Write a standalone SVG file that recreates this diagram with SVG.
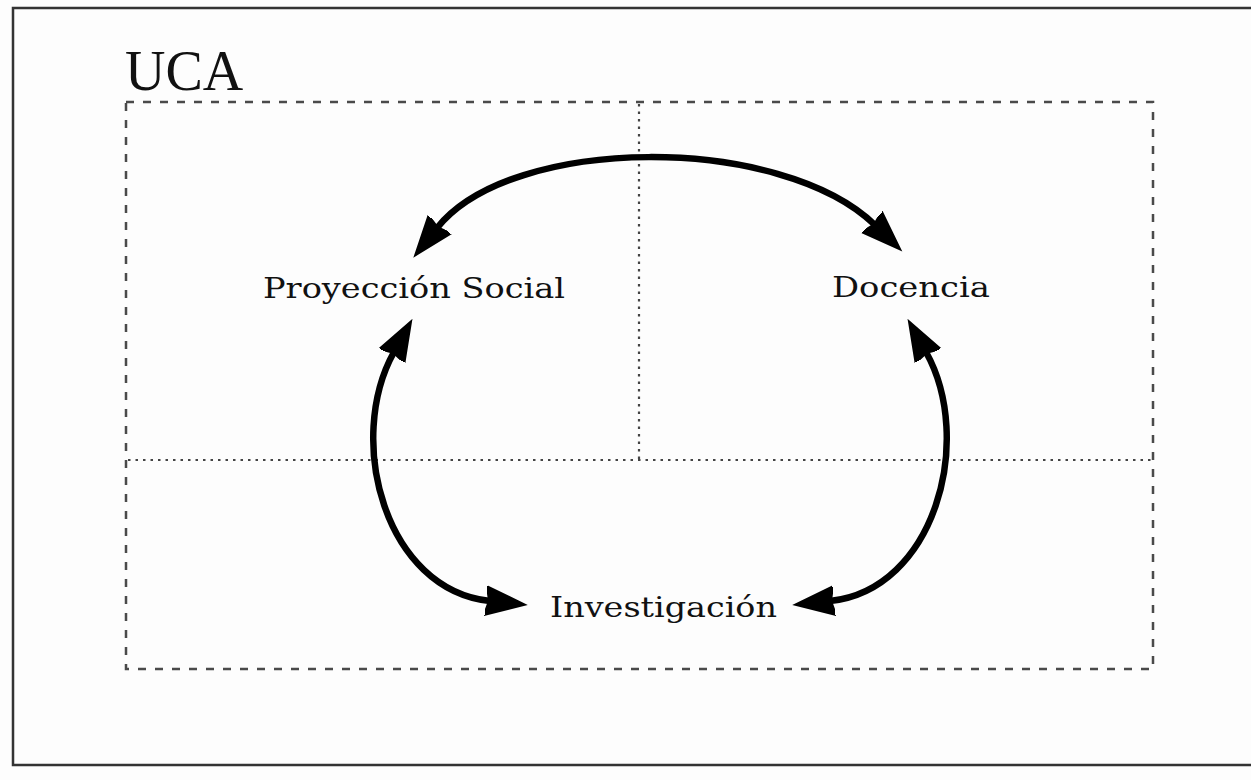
<svg xmlns="http://www.w3.org/2000/svg" width="1251" height="780" viewBox="0 0 1251 780">
<style>
.frame{fill:none;stroke:#333;stroke-width:2.5}
.dash{fill:none;stroke:#4a4a4a;stroke-width:2.5;stroke-dasharray:8 9}
.dot{fill:none;stroke:#444;stroke-width:2.2;stroke-dasharray:2.5 5}
.arc{fill:none;stroke:#000;stroke-width:6.5}
.lbl{font-family:"DejaVu Serif","Liberation Serif",serif;font-size:28px;fill:#111}
.title{font-family:"Liberation Serif",serif;font-size:56px;fill:#111}
</style>
<defs>
<marker id="ah" markerUnits="userSpaceOnUse" viewBox="-4 -20 46 40" refX="0" refY="0" markerWidth="46" markerHeight="40" orient="auto-start-reverse">
<path d="M-2,0 L-6,-16 L38,0 L-6,16 Z" fill="#000"/>
</marker>
</defs>
<rect x="0" y="0" width="1251" height="780" fill="#fdfdfd"/>
<rect class="frame" x="13" y="8" width="1250" height="757"/>
<g id="uca">
<rect class="dash" x="126" y="102" width="1027" height="567"/>
<line class="dot" x1="639" y1="104" x2="639" y2="460"/>
<line class="dot" x1="128" y1="460" x2="1151" y2="460"/>
<text class="title" x="125" y="90">UCA</text>
</g>
<g id="proyeccion">
<text class="lbl" x="263" y="298" textLength="302" lengthAdjust="spacingAndGlyphs">Proyección Social</text>
</g>
<g id="docencia">
<text class="lbl" x="832" y="297" textLength="158" lengthAdjust="spacingAndGlyphs">Docencia</text>
</g>
<g id="investigacion">
<text class="lbl" x="550" y="617" textLength="227" lengthAdjust="spacingAndGlyphs">Investigación</text>
</g>
<g id="connectors">
<path class="arc" d="M437,228 C512,134 781,134 875,225" marker-start="url(#ah)" marker-end="url(#ah)"/>
<path class="arc" d="M394,352 C345,440 385,590 490,601" marker-start="url(#ah)" marker-end="url(#ah)"/>
<path class="arc" d="M926,352 C975,440 935,590 830,601" marker-start="url(#ah)" marker-end="url(#ah)"/>
</g>
</svg>
